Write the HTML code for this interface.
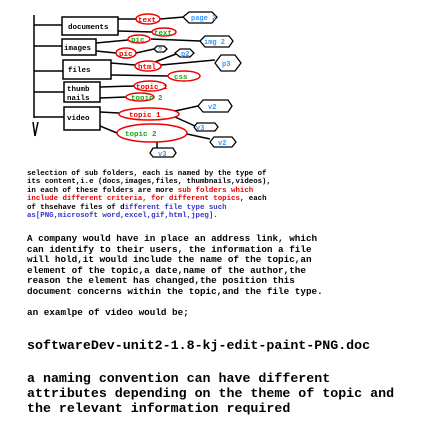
<!DOCTYPE html>
<html><head><meta charset="utf-8"><style>
html,body{margin:0;padding:0;background:#fff;width:427px;height:446px;overflow:hidden;position:relative}
.t{position:absolute;left:27px;font-family:"Liberation Mono",monospace;font-weight:bold;color:#000;white-space:pre;margin:0}
.r{color:#e00}.b{color:#33c}
</style></head><body>
<svg width="427" height="160" style="position:absolute;left:0;top:0" font-family="Liberation Mono,monospace" font-weight="bold">
<g stroke="#000" stroke-width="1.5" fill="none">
<line x1="34" y1="15" x2="34" y2="118"/>
<line x1="34" y1="25" x2="62" y2="25"/>
<line x1="34" y1="46" x2="62" y2="46"/>
<line x1="34" y1="71" x2="63" y2="71"/>
<line x1="34" y1="92" x2="64" y2="92"/>
<line x1="34" y1="117" x2="64" y2="117"/>
<line x1="33" y1="122" x2="35" y2="136"/><line x1="38" y1="122" x2="35" y2="136"/>
<rect x="62" y="17" width="56" height="18" fill="#fff"/>
<rect x="62" y="39" width="34" height="16" fill="#fff"/>
<rect x="63" y="60" width="48" height="19" fill="#fff"/>
<rect x="64" y="82" width="36" height="20" fill="#fff"/>
<rect x="64" y="107" width="36" height="23" fill="#fff"/>
<line x1="118" y1="19" x2="136" y2="19"/><line x1="118" y1="31" x2="152" y2="32"/>
<line x1="160" y1="19" x2="184" y2="17"/>
<line x1="96" y1="43" x2="128" y2="40"/><line x1="96" y1="51" x2="116" y2="53"/>
<line x1="151" y1="39" x2="200" y2="41"/><line x1="136" y1="53" x2="154" y2="49"/>
<line x1="111" y1="63" x2="135" y2="65"/><line x1="111" y1="75" x2="168" y2="76"/>
<line x1="161" y1="65" x2="215" y2="60"/><line x1="155" y1="62" x2="176" y2="54"/>
<line x1="100" y1="87" x2="134" y2="86"/><line x1="100" y1="98" x2="126" y2="97"/>
<line x1="100" y1="112" x2="119" y2="113"/><line x1="100" y1="126" x2="117" y2="133"/>
<line x1="175" y1="111" x2="198" y2="106"/><line x1="175" y1="117" x2="195" y2="126"/>
<line x1="187" y1="134" x2="210" y2="139"/><line x1="157" y1="142" x2="157" y2="149"/>
</g>
<g fill="none" stroke="#e00" stroke-width="1.5">
<ellipse cx="148" cy="19" rx="12" ry="5"/>
<ellipse cx="164" cy="32" rx="12" ry="4"/>
<ellipse cx="139" cy="39" rx="11" ry="4"/>
<ellipse cx="126" cy="53" rx="10" ry="5"/>
<ellipse cx="148" cy="66" rx="13" ry="5"/>
<ellipse cx="184" cy="76" rx="16" ry="5"/>
<ellipse cx="150" cy="86" rx="16" ry="5"/>
<ellipse cx="140" cy="97" rx="14" ry="4"/>
<ellipse cx="149" cy="114" rx="30" ry="6"/>
<ellipse cx="152" cy="133" rx="35" ry="9"/>
</g>
<g fill="#fff" stroke="#000" stroke-width="1.3">
<polygon points="183,17 189,12 212,12 217,17 212,23 189,23"/>
<polygon points="200,41 205,36 229,36 233,41 229,47 205,47"/>
<polygon points="154,49 157,46 164,46 167,49 164,52 157,52"/>
<polygon points="175,53 180,49 190,49 194,53 190,57 180,57"/>
<polygon points="215,63 221,55 235,55 241,63 235,71 221,71"/>
<polygon points="198,106 203,100 228,100 232,106 228,112 203,112"/>
<polygon points="194,127 197,123 215,123 218,127 215,131 197,131"/>
<polygon points="210,142 214,137 232,137 236,142 232,147 214,147"/>
<polygon points="150,153 153,148 173,148 176,153 173,157 153,157"/>
</g>
<g font-size="7.5" fill="#000">
<text x="68" y="29">documents</text><text x="64" y="50">images</text><text x="68" y="72">files</text>
<text x="67" y="91">thumb</text><text x="67" y="100">nails</text><text x="67" y="120">video</text>
</g>
<g font-size="7.5" fill="#e00">
<text x="138" y="22">text</text><text x="119" y="56">pic</text><text x="138" y="69">html</text>
<text x="136" y="89">topic 1</text><text x="129" y="117">topic 1</text>
</g>
<g font-size="7.5" fill="#1a1">
<text x="154" y="35">text</text><text x="131" y="42">pic</text><text x="174" y="79">css</text>
<text x="131" y="100">topic 2</text><text x="125" y="136">topic 2</text>
</g>
<g font-size="7" fill="#39f">
<text x="191" y="20">page 2</text><text x="204" y="44">img 2</text><text x="158" y="52">?</text>
<text x="181" y="56">p2</text><text x="222" y="66">p3</text><text x="208" y="109">v2</text>
<text x="196" y="130">v3</text><text x="218" y="145">v2</text><text x="158" y="156">v3</text>
</g>
</svg>
<div class="t" style="top:170px;font-size:7.4px;line-height:8.4px">selection of sub folders, each is named by the type of
its content,i.e (docs,images,files, thumbnails,videos),
in each of these folders are more <span class="r">sub folders which</span>
<span class="r">include different criteria, for different topics</span>, each
of thsehave files of d<span class="b">ifferent file type such</span>
<span class="b">as[PNG,microsoft word,excel,gif,html,jpeg].</span></div>
<div class="t" style="top:234px;font-size:9.3px;line-height:10.5px">A company would have in place an address link, which
can identify to their users, the information a file
will hold,it would include the name of the topic,an
element of the topic,a date,name of the author,the
reason the element has changed,the position this
document concerns within the topic,and the file type.

an examlpe of video would be;</div>
<div class="t" style="top:338px;font-size:13.3px;line-height:16px">softwareDev-unit2-1.8-kj-edit-paint-PNG.doc</div>
<div class="t" style="top:371px;font-size:13.3px;line-height:15px">a naming convention can have different
attributes depending on the theme of topic and
the relevant information required</div>
</body></html>
